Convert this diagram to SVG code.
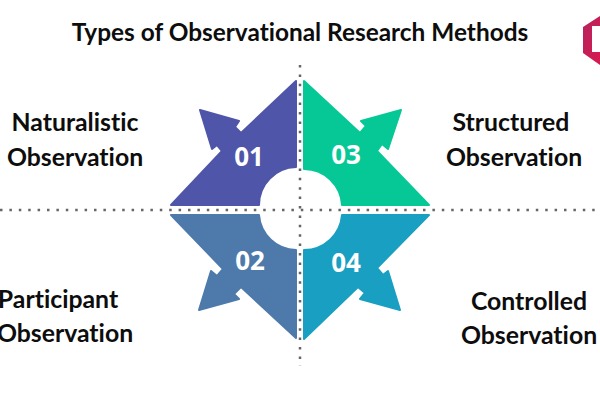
<svg xmlns="http://www.w3.org/2000/svg" width="600" height="400" viewBox="0 0 600 400">
<defs>
<linearGradient id="logo" x1="0" y1="0" x2="1" y2="1"><stop offset="0" stop-color="#b5235f"/><stop offset="1" stop-color="#d81a4e"/></linearGradient>
</defs>
<style>
text{font-family:"Lato","Open Sans",sans-serif;font-weight:700;fill:#0d0d0d;text-anchor:middle;font-variant-ligatures:none}
.t{font-size:24.4px}
.l{font-size:24.8px}
.n{font-family:"Open Sans",sans-serif;font-size:26px;fill:#fff}
.d{fill:none;stroke:#666;stroke-width:2.5;stroke-dasharray:2.5 6.9}
</style>
<rect width="600" height="400" fill="#fff"/>
<g id="connectors">
<path class="d" d="M0 210H600"/>
<path class="d" d="M300 65V366"/>
</g>
<g id="title"><text class="t" x="300" y="41">Types of Observational Research Methods</text></g>
<g id="logo-mark">
<path d="M600 16 L583 27 V53 L600 65Z" fill="url(#logo)"/>
<path d="M600 26 H592 V52 H600Z" fill="#fff"/>
</g>
<g id="node-01">
<path fill="#4f55a8" stroke="#4f55a8" stroke-width="2" stroke-linejoin="round" d="M296 81 V167 A38 38 0 0 0 259 205 H171 L222 151 L217 145 L212 149 L200 110 L239 121 L235 127 L241 133Z"/>
<text class="n" x="249" y="166">01</text>
<text class="l" x="75" y="131">Naturalistic</text>
<text class="l" x="75" y="166">Observation</text>
</g>
<g id="node-02">
<path fill="#4d7aab" stroke="#4d7aab" stroke-width="2" stroke-linejoin="round" d="M171 215 H259 A38 38 0 0 0 296 250 V338 L241 287 L234 294 L239 299 L199 310 L211 271 L217 276 L223 269Z"/>
<text class="n" x="250" y="270">02</text>
<text class="l" x="58" y="308">Participant</text>
<text class="l" x="65" y="342">Observation</text>
</g>
<g id="node-03">
<path fill="#06c896" stroke="#06c896" stroke-width="2" stroke-linejoin="round" d="M304 81 L360 133 L366 126 L361 121 L401 110 L388 149 L382 144 L377 151 L429 205 H342 A38 38 0 0 0 304 169Z"/>
<text class="n" x="346" y="164">03</text>
<text class="l" x="511" y="131">Structured</text>
<text class="l" x="514" y="166">Observation</text>
</g>
<g id="node-04">
<path fill="#199fc2" stroke="#199fc2" stroke-width="2" stroke-linejoin="round" d="M342 215 H429 L377 268 L383 275 L388 271 L400 310 L360 299 L365 293 L358 287 L304 339 V250 A38 38 0 0 0 342 215Z"/>
<text class="n" x="346" y="272">04</text>
<text class="l" x="529" y="310">Controlled</text>
<text class="l" x="529" y="344">Observation</text>
</g>
</svg>
